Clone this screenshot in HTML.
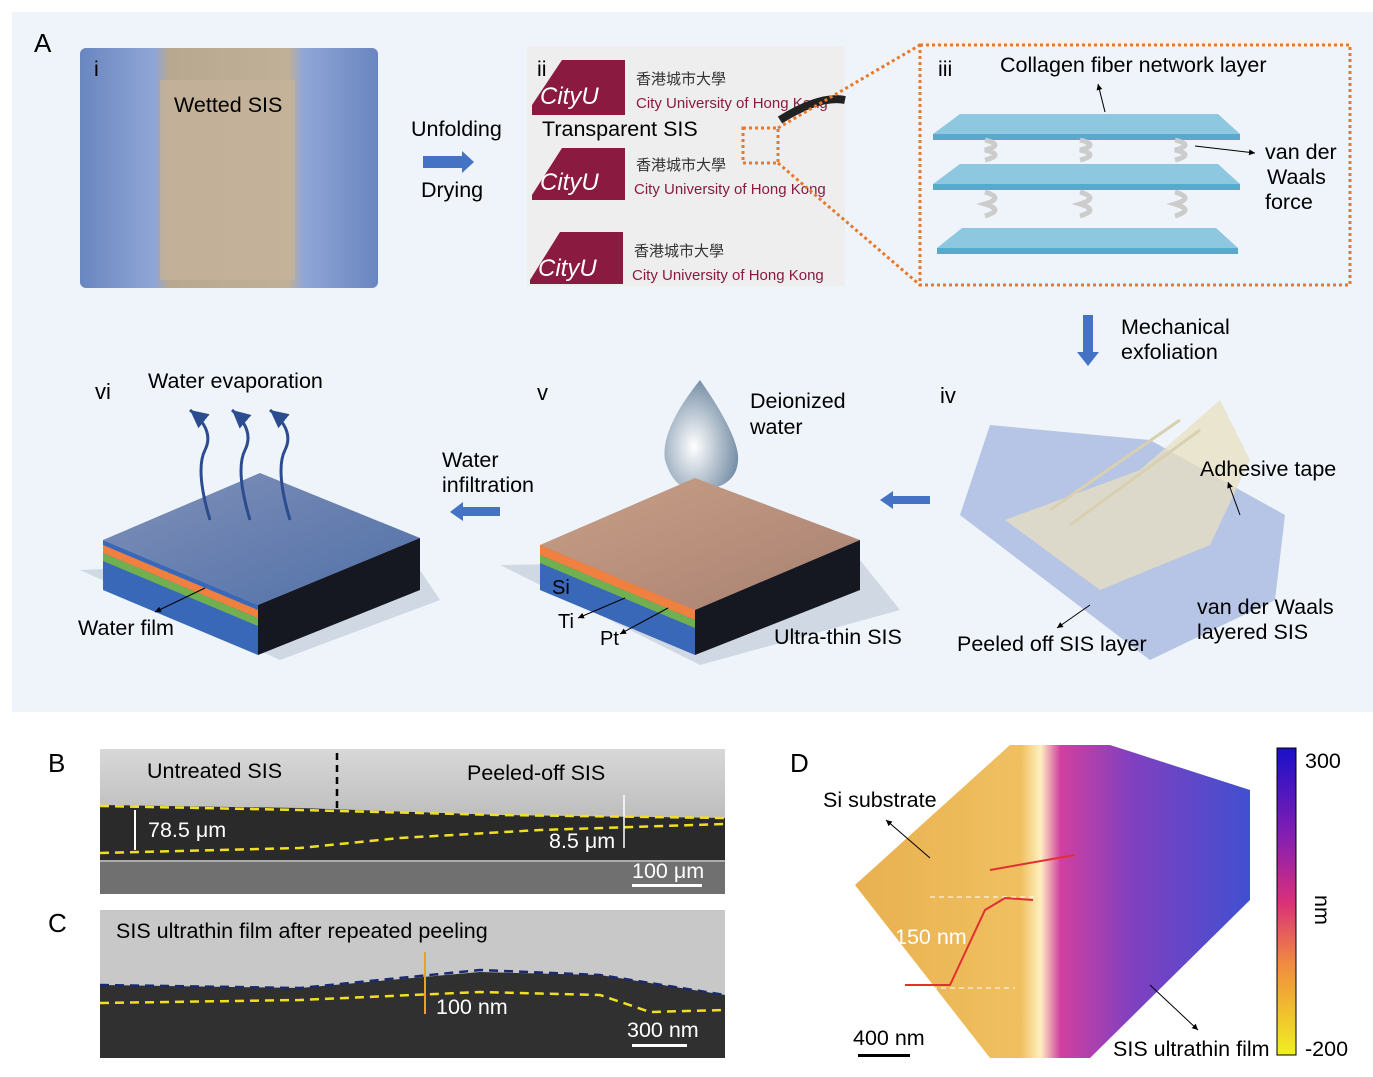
<!DOCTYPE html>
<html><head><meta charset="utf-8"><style>
body{margin:0;background:#fff;}
svg{display:block;font-family:"Liberation Sans","Noto Sans CJK TC",sans-serif;}
</style></head><body>
<svg width="1373" height="1077" viewBox="0 0 1373 1077" xmlns="http://www.w3.org/2000/svg">
<defs>
<linearGradient id="cb" x1="0" y1="0" x2="0" y2="1">
<stop offset="0" stop-color="#1a10c8"/><stop offset="0.3" stop-color="#8a1fb0"/><stop offset="0.5" stop-color="#d8307a"/><stop offset="0.7" stop-color="#f08a40"/><stop offset="1" stop-color="#f0f020"/></linearGradient>
<linearGradient id="afm" x1="0" y1="0" x2="1" y2="0">
<stop offset="0" stop-color="#e8b050"/><stop offset="0.42" stop-color="#f0c060"/><stop offset="0.47" stop-color="#fff0c0"/><stop offset="0.52" stop-color="#d040a0"/><stop offset="0.7" stop-color="#8040c0"/><stop offset="1" stop-color="#4050d0"/></linearGradient>
<linearGradient id="sem1" x1="0" y1="0" x2="0" y2="1">
<stop offset="0" stop-color="#d8d8d8"/><stop offset="1" stop-color="#a0a0a0"/></linearGradient>
<linearGradient id="glove" x1="0" y1="0" x2="1" y2="0">
<stop offset="0" stop-color="#6a86c0"/><stop offset="0.25" stop-color="#8fa6d6"/><stop offset="0.3" stop-color="#b8a890"/><stop offset="0.7" stop-color="#c0b098"/><stop offset="0.75" stop-color="#8fa6d6"/><stop offset="1" stop-color="#6a86c0"/></linearGradient>
<linearGradient id="topv" x1="0" y1="0" x2="1" y2="1">
<stop offset="0" stop-color="#c8a088"/><stop offset="1" stop-color="#a88070"/></linearGradient>
<linearGradient id="topvi" x1="0" y1="0" x2="1" y2="1">
<stop offset="0" stop-color="#8090b8"/><stop offset="1" stop-color="#5070a8"/></linearGradient>
<radialGradient id="drop" cx="0.4" cy="0.6" r="0.6"><stop offset="0" stop-color="#ffffff"/><stop offset="1" stop-color="#7890a8"/></radialGradient>
<marker id="ah" markerWidth="8" markerHeight="8" refX="6" refY="3" orient="auto"><path d="M0,0 L6,3 L0,6z" fill="#000"/></marker>
<marker id="ahb" markerWidth="8" markerHeight="8" refX="6" refY="3" orient="auto"><path d="M0,0 L6,3 L0,6z" fill="#2c4c90"/></marker>
</defs>
<rect x="12" y="12" width="1361" height="700" fill="#eef4f9"/>
<text x="34" y="52" font-size="26">A</text>

<rect x="80" y="48" width="298" height="240" fill="url(#glove)" rx="6"/>
<rect x="160" y="80" width="135" height="200" fill="#c4b39a" opacity="0.8"/>
<text x="94" y="76" font-size="21.5">i</text>
<text x="174" y="112" font-size="21.5">Wetted SIS</text>

<text x="411" y="136" font-size="21.5">Unfolding</text>
<path d="M423,156 H462 V151 L474,162 L462,173 V168 H423z" fill="#4472c4"/>
<text x="421" y="197" font-size="21.5">Drying</text>

<rect x="527" y="46" width="318" height="240" fill="#efeeee"/>
<text x="537" y="76" font-size="21.5">ii</text>
<g font-size="15" fill="#333">
<path d="M532,105 L562,60 L625,60 L625,115 L532,115z" fill="#8a1a40"/>
<text x="540" y="104" fill="#fff" font-size="24" font-style="italic">CityU</text>
<text x="636" y="84">香港城市大學</text>
<text x="636" y="108" fill="#8a1a40">City University of Hong Kong</text>
<path d="M532,195 L562,148 L625,148 L625,200 L532,200z" fill="#8a1a40"/>
<text x="540" y="190" fill="#fff" font-size="24" font-style="italic">CityU</text>
<text x="636" y="170">香港城市大學</text>
<text x="634" y="194" fill="#8a1a40">City University of Hong Kong</text>
<path d="M530,280 L560,232 L623,232 L623,284 L530,284z" fill="#8a1a40"/>
<text x="538" y="276" fill="#fff" font-size="24" font-style="italic">CityU</text>
<text x="634" y="256">香港城市大學</text>
<text x="632" y="280" fill="#8a1a40">City University of Hong Kong</text>
</g>
<path d="M780,120 Q820,95 845,100" stroke="#222" stroke-width="8" fill="none"/>
<text x="542" y="136" font-size="21.5">Transparent SIS</text>
<rect x="743" y="128" width="35" height="35" fill="none" stroke="#e8782a" stroke-width="3" stroke-dasharray="3,3"/>
<line x1="778" y1="128" x2="920" y2="45" stroke="#e8782a" stroke-width="3" stroke-dasharray="3,3"/>
<line x1="778" y1="163" x2="920" y2="285" stroke="#e8782a" stroke-width="3" stroke-dasharray="3,3"/>

<rect x="920" y="45" width="430" height="240" fill="none" stroke="#e8782a" stroke-width="3" stroke-dasharray="3,3"/>
<text x="938" y="76" font-size="21.5">iii</text>
<text x="1000" y="72" font-size="21.5">Collagen fiber network layer</text>
<line x1="1105" y1="112" x2="1098" y2="84" stroke="#000" marker-end="url(#ah)"/>
<path d="M960,114 H1218 L1240,134 H933z" fill="#8ec8e0"/><rect x="933" y="134" width="307" height="6" fill="#5aa8cc"/>
<path d="M960,164 H1218 L1240,184 H933z" fill="#8ec8e0"/><rect x="933" y="184" width="307" height="6" fill="#5aa8cc"/>
<path d="M962,228 H1216 L1238,248 H937z" fill="#8ec8e0"/><rect x="937" y="248" width="301" height="6" fill="#5aa8cc"/>
<g stroke="#ccc" stroke-width="5" fill="none">
<path d="M985,140 q20,5 0,10 q20,5 0,10"/><path d="M1080,140 q20,5 0,10 q20,5 0,10"/><path d="M1175,140 q20,5 0,10 q20,5 0,10"/>
<path d="M985,192 q20,6 0,12 q20,6 0,12"/><path d="M1080,192 q20,6 0,12 q20,6 0,12"/><path d="M1175,192 q20,6 0,12 q20,6 0,12"/>
</g>
<line x1="1195" y1="146" x2="1255" y2="153" stroke="#000" marker-end="url(#ah)"/>
<text x="1265" y="159" font-size="21.5">van der</text>
<text x="1267" y="184" font-size="21.5">Waals</text>
<text x="1265" y="209" font-size="21.5">force</text>

<path d="M1083,315 H1093 V352 H1099 L1088,366 L1077,352 H1083z" fill="#4472c4"/>
<text x="1121" y="334" font-size="21.5">Mechanical</text>
<text x="1121" y="359" font-size="21.5">exfoliation</text>

<text x="940" y="403" font-size="22">iv</text>
<path d="M990,425 L1150,440 L1285,515 L1275,600 L1150,660 L960,515z" fill="#a8b8e0" opacity="0.8"/>
<path d="M1005,520 L1140,470 L1220,400 L1250,460 L1210,545 L1100,590z" fill="#e8e0c0" opacity="0.75"/>
<path d="M1050,510 L1180,420 M1070,525 L1200,430" stroke="#d8d0b0" stroke-width="3"/>
<text x="1200" y="476" font-size="21.5">Adhesive tape</text>
<line x1="1240" y1="515" x2="1228" y2="482" stroke="#000" marker-end="url(#ah)"/>
<text x="1197" y="614" font-size="21.5">van der Waals</text>
<text x="1197" y="639" font-size="21.5">layered SIS</text>
<text x="957" y="651" font-size="21.5">Peeled off SIS layer</text>
<line x1="1090" y1="605" x2="1057" y2="628" stroke="#000" marker-end="url(#ah)"/>

<path d="M930,496 H893 V491 L880,500 L893,509 V504 H930z" fill="#4472c4"/>

<text x="537" y="400" font-size="22">v</text>
<path d="M700,380 Q660,430 665,460 Q675,495 705,490 Q740,485 738,455 Q735,430 700,380z" fill="url(#drop)"/>
<text x="750" y="408" font-size="21.5">Deionized</text>
<text x="750" y="434" font-size="21.5">water</text>
<path d="M500,565 L700,665 L900,610 L860,560z" fill="#d0d8e4"/>
<path d="M540,545 L695,478 L860,540 L695,610z" fill="url(#topv)"/>
<path d="M540,545 L695,610 L695,655 L540,590z" fill="#3a68b8"/>
<path d="M540,545 L695,610 L695,620 L540,555z" fill="#f08040"/>
<path d="M540,555 L695,620 L695,628 L540,563z" fill="#70b050"/>
<path d="M695,610 L860,540 L860,590 L695,655z" fill="#151820"/>
<text x="552" y="594" font-size="20">Si</text>
<text x="558" y="628" font-size="20">Ti</text>
<text x="600" y="645" font-size="20">Pt</text>
<line x1="625" y1="598" x2="578" y2="618" stroke="#000" marker-end="url(#ah)"/>
<line x1="668" y1="608" x2="620" y2="634" stroke="#000" marker-end="url(#ah)"/>
<text x="774" y="644" font-size="21.5">Ultra-thin SIS</text>

<text x="442" y="467" font-size="21.5">Water</text>
<text x="442" y="492" font-size="21.5">infiltration</text>
<path d="M500,507 H463 V502 L450,512 L463,521 V516 H500z" fill="#4472c4"/>

<text x="95" y="399" font-size="22">vi</text>
<text x="148" y="388" font-size="21.5">Water evaporation</text>
<path d="M80,570 L280,660 L440,600 L410,555z" fill="#d0d8e4"/>
<path d="M103,540 L260,473 L420,538 L258,605z" fill="url(#topvi)"/>
<path d="M103,540 L258,605 L258,655 L103,590z" fill="#3a68b8"/>
<path d="M103,545 L258,610 L258,618 L103,553z" fill="#f08040"/>
<path d="M103,553 L258,618 L258,626 L103,561z" fill="#70b050"/>
<path d="M258,605 L420,538 L420,590 L258,655z" fill="#151820"/>
<g stroke="#2c4c90" stroke-width="3" fill="none">
<path d="M210,520 Q195,470 205,450 Q215,430 190,410" marker-end="url(#ahb)"/>
<path d="M250,520 Q235,470 245,450 Q255,430 232,410" marker-end="url(#ahb)"/>
<path d="M290,520 Q275,470 285,450 Q295,430 270,410" marker-end="url(#ahb)"/>
</g>
<text x="78" y="635" font-size="21.5">Water film</text>
<line x1="205" y1="588" x2="155" y2="612" stroke="#000" marker-end="url(#ah)"/>

<text x="48" y="772" font-size="26">B</text>
<rect x="100" y="749" width="625" height="145" fill="url(#sem1)"/>
<path d="M100,805 L300,808 L500,815 L725,818 L725,860 L100,860z" fill="#2a2a2a"/>
<rect x="100" y="862" width="625" height="32" fill="#707070"/>
<path d="M100,806 L300,810 L500,815 L725,818" stroke="#f0e020" stroke-width="2.5" stroke-dasharray="9,6" fill="none"/>
<path d="M100,853 L300,848 L400,838 L540,830 L725,824" stroke="#f0e020" stroke-width="2.5" stroke-dasharray="9,6" fill="none"/>
<line x1="337" y1="753" x2="337" y2="812" stroke="#000" stroke-width="2.5" stroke-dasharray="7,5"/>
<text x="147" y="778" font-size="21.5">Untreated SIS</text>
<text x="467" y="780" font-size="21.5">Peeled-off SIS</text>
<line x1="135" y1="810" x2="135" y2="850" stroke="#fff" stroke-width="2"/>
<text x="148" y="837" font-size="21.5" fill="#fff">78.5 μm</text>
<text x="549" y="848" font-size="21.5" fill="#fff">8.5 μm</text>
<line x1="624" y1="795" x2="624" y2="848" stroke="#fff" stroke-width="1.5"/>
<text x="632" y="878" font-size="21.5" fill="#fff">100 μm</text>
<rect x="632" y="884" width="70" height="3" fill="#fff"/>

<text x="48" y="932" font-size="26">C</text>
<rect x="100" y="910" width="625" height="148" fill="#c8c8c8"/>
<path d="M100,985 L300,988 L480,972 L600,975 L725,995 L725,1058 L100,1058z" fill="#303030"/>
<path d="M100,985 L300,988 L480,970 L600,975 L725,995" stroke="#1a2a70" stroke-width="2.5" stroke-dasharray="9,6" fill="none"/>
<path d="M100,1003 L300,1000 L480,992 L600,995 L650,1012 L725,1010" stroke="#f0e020" stroke-width="2.5" stroke-dasharray="9,6" fill="none"/>
<text x="116" y="938" font-size="21.5">SIS ultrathin film after repeated peeling</text>
<line x1="425" y1="952" x2="425" y2="1014" stroke="#f0a020" stroke-width="2"/>
<text x="436" y="1014" font-size="21.5" fill="#fff">100 nm</text>
<text x="627" y="1037" font-size="21.5" fill="#fff">300 nm</text>
<rect x="632" y="1044" width="55" height="3" fill="#fff"/>

<text x="790" y="772" font-size="26">D</text>
<path d="M855,885 L1010,745 L1110,745 L1250,790 L1250,900 L1090,1058 L990,1058z" fill="url(#afm)"/>
<text x="823" y="807" font-size="21.5">Si substrate</text>
<line x1="930" y1="858" x2="886" y2="820" stroke="#000" marker-end="url(#ah)"/>
<path d="M990,870 L1075,855" stroke="#e03030" stroke-width="2"/>
<line x1="930" y1="897" x2="1035" y2="897" stroke="#fff" stroke-dasharray="5,4"/>
<line x1="905" y1="988" x2="1015" y2="988" stroke="#fff" stroke-dasharray="5,4"/>
<path d="M905,985 L950,985 L985,910 L1005,898 L1033,900" stroke="#e03030" stroke-width="2" fill="none"/>
<text x="895" y="944" font-size="21.5" fill="#fff">150 nm</text>
<text x="1113" y="1056" font-size="21.5">SIS ultrathin film</text>
<line x1="1150" y1="985" x2="1198" y2="1030" stroke="#000" marker-end="url(#ah)"/>
<text x="853" y="1045" font-size="21.5">400 nm</text>
<rect x="858" y="1054" width="52" height="3" fill="#000"/>
<rect x="1277" y="748" width="19" height="307" fill="url(#cb)" stroke="#000"/>
<text x="1305" y="768" font-size="21.5">300</text>
<text x="1305" y="1056" font-size="21.5">-200</text>
<text x="1315" y="895" font-size="21.5" transform="rotate(90 1315 895)">nm</text>
</svg>
</body></html>
